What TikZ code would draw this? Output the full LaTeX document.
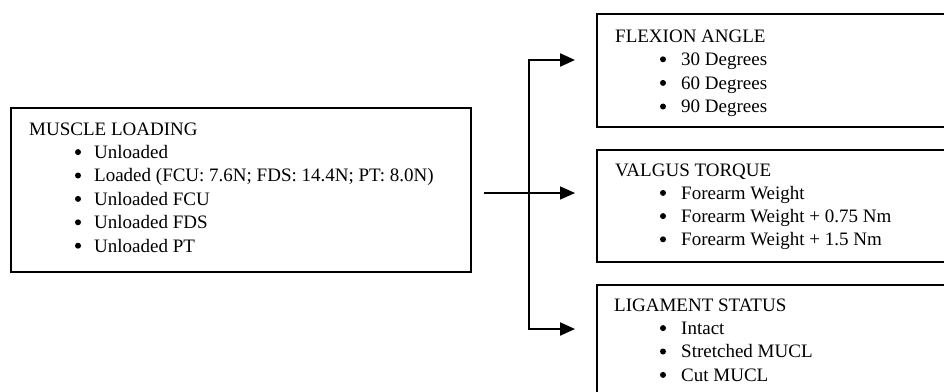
\documentclass[tikz,border=0pt]{standalone}
\usepackage{fontspec}
\setmainfont{Liberation Serif}
\usetikzlibrary{arrows.meta}
\begin{document}
\begin{tikzpicture}[x=1pt,y=-1pt,
  box/.style={draw,line width=1.8pt,inner sep=0pt,anchor=north west},
  txt/.style={anchor=base west,inner sep=0pt,font=\fontsize{19}{22}\selectfont},
  dot/.style={circle,fill,inner sep=0pt,minimum size=6pt},
  conn/.style={line width=1.5pt},
  arr/.style={line width=2.3pt,-{Triangle[length=15pt,width=13pt]}},
  arrm/.style={line width=1.5pt,-{Triangle[length=15pt,width=13pt]}}]
\useasboundingbox (0,0) rectangle (944,391);
\fill[white] (0,0) rectangle (944,391);
\clip (0,0) rectangle (944,391);
% boxes
\node[box,minimum width=460pt,minimum height=164pt] (ml) at (10,107) {};
\node[box,minimum width=420pt,minimum height=113pt] (fa) at (596,13) {};
\node[box,minimum width=420pt,minimum height=112pt] (vt) at (596,149) {};
\node[box,minimum width=420pt,minimum height=160pt] (ls) at (596,284) {};
% muscle loading
\node[txt] (mlt) at (29,135) {MUSCLE LOADING};
\foreach \t [count=\i] in {Unloaded,{Loaded (FCU: 7.6N; FDS: 14.4N; PT: 8.0N)},Unloaded FCU,Unloaded FDS,Unloaded PT}{
  \pgfmathsetmacro{\yy}{135+23.4*\i}
  \node[dot] (mlb\i) at (78,\yy-6.3) {};
  \node[txt] (mli\i) at (94,\yy) {\t};
}
% flexion angle
\node[txt] (fat) at (615,42) {FLEXION ANGLE};
\foreach \t [count=\i] in {30 Degrees,60 Degrees,90 Degrees}{
  \pgfmathsetmacro{\yy}{42+23.6*\i}
  \node[dot] (fab\i) at (663,\yy-6.3) {};
  \node[txt] (fai\i) at (681,\yy) {\t};
}
% valgus torque
\node[txt] (vtt) at (615,176) {VALGUS TORQUE};
\foreach \t [count=\i] in {Forearm Weight,Forearm Weight + 0.75 Nm,Forearm Weight + 1.5 Nm}{
  \pgfmathsetmacro{\yy}{176+23.2*\i}
  \node[dot] (vtb\i) at (663,\yy-6.3) {};
  \node[txt] (vti\i) at (681,\yy) {\t};
}
% ligament status
\node[txt] (lst) at (614,311) {LIGAMENT STATUS};
\foreach \t [count=\i] in {Intact,Stretched MUCL,Cut MUCL}{
  \pgfmathsetmacro{\yy}{311+23.4*\i}
  \node[dot] (lsb\i) at (663,\yy-6.3) {};
  \node[txt] (lsi\i) at (681,\yy) {\t};
}
% connectors
\coordinate (src) at (484,193);
\coordinate (j1) at (529,60);
\coordinate (j3) at (529,329);
\coordinate (t1) at (575,60);
\coordinate (t2) at (575,193);
\coordinate (t3) at (575,329);
\draw[arrm] (src) -- (t2);
\draw[conn] (j1) -- (j3);
\draw[arr] ([xshift=-0.75pt]j1) -- (t1);
\draw[arr] ([xshift=-0.75pt]j3) -- (t3);
\end{tikzpicture}
\end{document}
